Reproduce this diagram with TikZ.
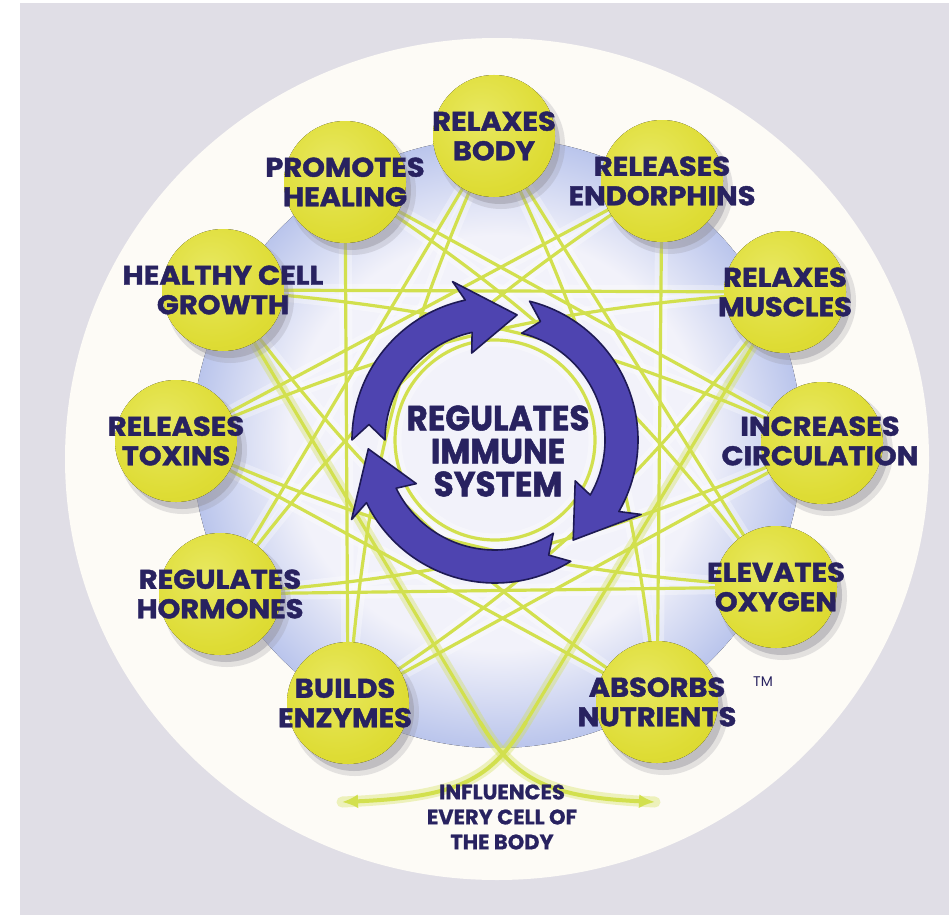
\documentclass[tikz,border=0pt]{standalone}
\usepackage{fontspec}
\setmainfont{Poppins}
\newfontfamily\labfont{Poppins}[FakeStretch=1.07, FakeBold=1.5]
\newfontfamily\cenfont{Poppins}[FakeStretch=0.93, FakeBold=1.5]
\newfontfamily\infont{Poppins}[FakeStretch=1.0, FakeBold=0.8]
\usetikzlibrary{arrows.meta,calc}
\definecolor{bggrey}{RGB}{224,222,230}
\definecolor{cream}{RGB}{253,251,246}
\definecolor{navy}{RGB}{40,34,96}
\definecolor{arrowblue}{RGB}{78,68,176}
\definecolor{arrowdark}{RGB}{30,26,85}
\definecolor{ballyellow}{RGB}{222,220,52}
\definecolor{balllight}{RGB}{232,232,96}
\definecolor{balldark}{RGB}{206,202,36}
\definecolor{lineyellow}{RGB}{210,224,78}
\definecolor{shadowgrey}{RGB}{150,148,158}
\definecolor{blueA}{RGB}{242,242,250}
\definecolor{blueB}{RGB}{186,197,236}
\definecolor{blueC}{RGB}{122,144,212}
\definecolor{blueD}{RGB}{150,166,222}
\pgfdeclareradialshading{bluedisk}{\pgfpoint{0bp}{0bp}}{color(0bp)=(blueA); color(17bp)=(blueA); color(25bp)=(blueB); color(38bp)=(blueC); color(46bp)=(blueD); color(50bp)=(cream); color(100bp)=(cream)}
\pgfdeclareradialshading{ballshade}{\pgfpoint{-6bp}{8bp}}{color(0bp)=(balllight); color(28bp)=(ballyellow); color(60bp)=(balldark); color(100bp)=(balldark)}
\begin{document}
\begin{tikzpicture}[x=1pt,y=1pt,
  lab/.style={font=\labfont\bfseries\fontsize{27}{29.5}\selectfont, text=navy, align=center, inner sep=0pt},
  cen/.style={font=\cenfont\bfseries\fontsize{35}{33}\selectfont, text=navy, align=center, inner sep=0pt},
  inf/.style={font=\infont\bfseries\fontsize{21}{25}\selectfont, text=navy, align=center, inner sep=0pt},
  chord/.style={draw=lineyellow, line width=3.2pt, line cap=round},
  glow/.style={draw=white, opacity=.32, line width=13pt, line cap=round},
  ringarrow/.style={fill=arrowblue, draw=arrowdark, line width=1.6pt, line join=round},
  flowarrow/.style={draw=lineyellow, line width=4pt, -{Latex[length=16pt,width=14pt]}},
  flowglow/.style={draw=lineyellow, opacity=.35, line width=11pt, line cap=round}]
\useasboundingbox (0,0) rectangle (949,-915);
\fill[white] (0,0) rectangle (949,-915);
\fill[bggrey] (20,-3) rectangle (949,-915);
\fill[cream] (497,-459) ellipse [x radius=432, y radius=421];
\fill[shading=bluedisk] (497,-443) circle (305);
% positions of the twelve places
\coordinate (b0) at (494,-136);
\coordinate (b1) at (662,-181);
\coordinate (b2) at (785,-292);
\coordinate (b3) at (822,-443);
\coordinate (b4) at (776,-587);
\coordinate (b5) at (657,-702);
\coordinate (b6) at (503,-760);
\coordinate (b7) at (348,-703);
\coordinate (b8) at (220,-594);
\coordinate (b9) at (176,-441);
\coordinate (b10) at (223,-290);
\coordinate (b11) at (345,-182);
\coordinate (c) at (495,-440);
% glow under the lines
\foreach \i in {0,...,11}{
  \pgfmathtruncatemacro\j{mod(\i+4,12)}
  \pgfmathtruncatemacro\m{mod(\i+5,12)}
  \ifnum\i=6 \else
    \ifnum\j=6 \else \draw[glow] (b\i) -- (b\j); \fi
    \ifnum\m=6 \else \draw[glow] (b\i) to[bend left=10] (b\m); \fi
  \fi
}
\draw[glow] (c) circle (100);
% the star lines
\foreach \i in {0,...,11}{
  \pgfmathtruncatemacro\j{mod(\i+4,12)}
  \pgfmathtruncatemacro\m{mod(\i+5,12)}
  \ifnum\i=6 \else
    \ifnum\j=6 \else \draw[chord] (b\i) -- (b\j); \fi
    \ifnum\m=6 \else \draw[chord] (b\i) to[bend left=10] (b\m); \fi
  \fi
}
\draw[chord] (c) circle (100);
% lines crossing at the bottom into two arrows
\coordinate (ar) at (655,-802);
\coordinate (al) at (342,-802);
\draw[flowglow] (b10) -- (480,-722) .. controls (515,-780) and (548,-797) .. (ar);
\draw[flowglow] (b2) -- (526,-722) .. controls (491,-780) and (458,-797) .. (al);
\draw[chord] (b10) -- (480,-722);
\draw[chord] (b2) -- (526,-722);
\draw[flowarrow] (480,-722) .. controls (515,-780) and (548,-797) .. (ar);
\draw[flowarrow] (526,-722) .. controls (491,-780) and (458,-797) .. (al);
% the ring of three arrows
\begin{scope}[shift={(c)}]
\foreach \t/\p in {180/80, 76/-52, -58/-176}{
  \pgfmathsetmacro\b{\p+22}
  \pgfmathsetmacro\bb{\p+25}
  \pgfmathsetmacro\n{\t-7}
  \filldraw[ringarrow] (\t:143) arc[start angle=\t, end angle=\b, radius=143]
    -- (\bb:164) -- (\p:127) -- (\bb:90) -- (\b:110)
    arc[start angle=\b, end angle=\t, radius=110] -- (\n:127) -- cycle;
}
\end{scope}
% yellow balls with shadows
\foreach \i in {0,1,2,3,4,5,7,8,9,10,11}{
  \fill[shadowgrey, opacity=.25] ($(b\i)+(7,-9)$) circle (64);
  \fill[shadowgrey, opacity=.45] ($(b\i)+(6,-8)$) circle (60);
  \fill[shading=ballshade] (b\i) circle (61);
}
% labels
\node[lab] (l0) at (b0) {RELAXES\\BODY};
\node[lab] (l1) at (b1) {RELEASES\\ENDORPHINS};
\node[lab] (l2) at (b2) {RELAXES\\MUSCLES};
\node[lab] (l3) at ($(b3)+(-2,2)$) {INCREASES\\CIRCULATION};
\node[lab] (l4) at (b4) {ELEVATES\\OXYGEN};
\node[lab] (l5) at (b5) {ABSORBS\\NUTRIENTS};
\node[lab] (l7) at ($(b7)+(-3,0)$) {BUILDS\\ENZYMES};
\node[lab] (l8) at (b8) {REGULATES\\HORMONES};
\node[lab] (l9) at (b9) {RELEASES\\TOXINS};
\node[lab] (l10) at (b10) {HEALTHY CELL\\GROWTH};
\node[lab] (l11) at (b11) {PROMOTES\\HEALING};
\node[text=navy, font=\fontsize{14}{14}\selectfont, inner sep=0pt] (tm) at (763,-682) {TM};
\node[cen] (center) at (498,-451) {REGULATES\\IMMUNE\\SYSTEM};
\node[inf] (influence) at (502,-817) {INFLUENCES\\EVERY CELL OF\\THE BODY};
\end{tikzpicture}
\end{document}
